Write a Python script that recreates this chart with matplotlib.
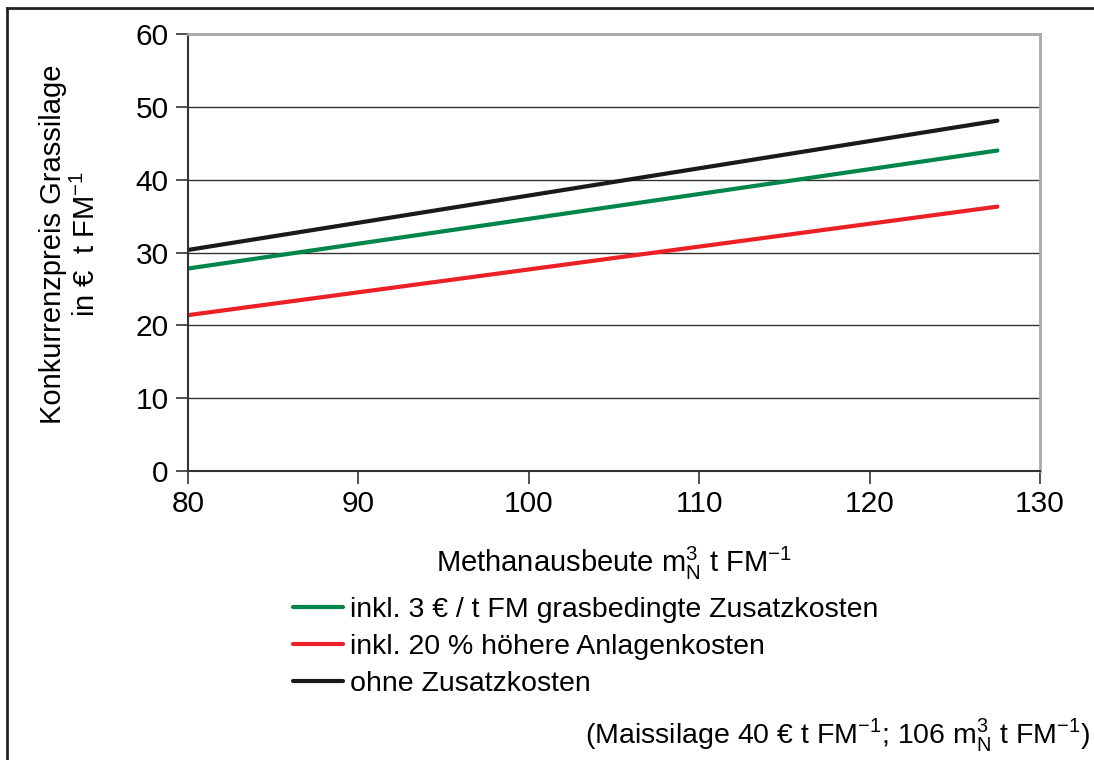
import matplotlib.pyplot as plt
from matplotlib.lines import Line2D

plt.rcParams['font.family'] = ['Liberation Sans', 'DejaVu Sans']

# Methanausbeute (x) and Konkurrenzpreis (y) per scenario
x = [80, 127.5]
y_gras = [27.8, 44.0]
y_anlage = [21.4, 36.3]
y_ohne = [30.35, 48.1]

labels = ['inkl. 3 € / t FM grasbedingte Zusatzkosten',
          'inkl. 20 % höhere Anlagenkosten',
          'ohne Zusatzkosten']
colors = ['#00864a', '#ee2027', '#1a1a1a']

W, H = 1094, 760
fig = plt.figure(figsize=(W / 100, H / 100), dpi=100)
ax = fig.add_axes([188 / W, 1 - 471 / H, (1040 - 188) / W, (471 - 34) / H])

for yv, lab, c in zip([y_gras, y_anlage, y_ohne], labels, colors):
    ax.plot(x, yv, color=c, lw=3, label=lab, solid_capstyle='round')

ax.set_xlim(80, 130)
ax.set_ylim(0, 60)
ax.set_xticks(range(80, 131, 10))
ax.set_yticks(range(0, 61, 10))
ax.yaxis.grid(True, color='#333333', lw=1)
ax.set_axisbelow(True)
ax.tick_params(labelsize=21.5, length=9, width=1.2, color='#333333', pad=5)

for s in ['left', 'bottom']:
    ax.spines[s].set_color('#333333')
    ax.spines[s].set_linewidth(1.5)
for s in ['top', 'right']:
    ax.spines[s].set_color('#a8a8a8')
    ax.spines[s].set_linewidth(2)

ax.set_xlabel('Methanausbeute m$_\\mathregular{N}^\\mathregular{3}$ t FM$^\\mathregular{-1}$',
              fontsize=21, labelpad=19)
ax.set_ylabel('Konkurrenzpreis Grassilage\nin €  t FM$^\\mathregular{-1}$',
              fontsize=21, linespacing=1.2)
ax.yaxis.set_label_coords(-0.102, 0.52)

ax.legend(loc='upper left', bbox_to_anchor=(293 / W, 1 - 597 / H),
          bbox_transform=fig.transFigure, frameon=False, fontsize=20.5,
          handlelength=1.75, handletextpad=0.25, labelspacing=0.38,
          borderaxespad=0, borderpad=0)

fig.text(1090 / W, 1 - 735 / H,
         '(Maissilage 40 € t FM$^\\mathregular{-1}$; 106 m$_\\mathregular{N}^\\mathregular{3}$ t FM$^\\mathregular{-1}$)',
         ha='right', va='center', fontsize=20.5)

# outer frame
fig.add_artist(Line2D([7 / W, 7 / W], [0, 1 - 8 / H], transform=fig.transFigure,
                      color='#222222', lw=2))
fig.add_artist(Line2D([7 / W, 1], [1 - 8 / H, 1 - 8 / H], transform=fig.transFigure,
                      color='#222222', lw=2))

fig.savefig('out.png', dpi=100)
